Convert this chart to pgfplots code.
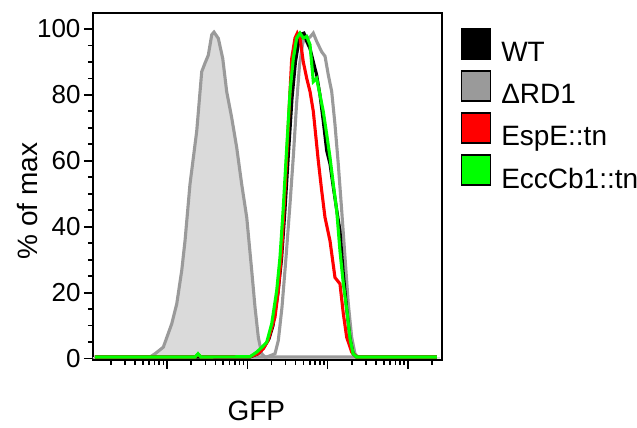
\documentclass[border=0pt]{standalone}
\usepackage{fontspec}
\setmainfont{Liberation Sans}
\usepackage{pgfplots}
\pgfplotsset{compat=1.18}
\definecolor{grayline}{HTML}{9A9A9A}
\definecolor{grayfill}{HTML}{DADADA}
\definecolor{legendgray}{HTML}{9A9A9A}
\definecolor{myred}{HTML}{FF0000}
\definecolor{mygreen}{HTML}{00FF00}
\begin{document}
\begin{tikzpicture}
\useasboundingbox (-93pt,-68pt) rectangle (544pt,360pt);
\begin{axis}[
  scale only axis, width=349pt, height=347pt,
  xmin=0.078, xmax=4.425, ymin=-0.4, ymax=104.8,
  axis line style={line width=1.6pt},
  tick style={line width=1.6pt, black},
  tick align=outside,
  xtick pos=bottom, ytick pos=left,
  xtick={1,2,3,4}, xticklabels={},
  minor xtick={0.301,0.477,0.602,0.699,0.778,0.845,0.903,0.954,
    1.301,1.477,1.602,1.699,1.778,1.845,1.903,1.954,
    2.301,2.477,2.602,2.699,2.778,2.845,2.903,2.954,
    3.301,3.477,3.602,3.699,3.778,3.845,3.903,3.954,4.301},
  ytick={0,20,40,60,80,100},
  minor ytick={5,10,15,25,30,35,45,50,55,65,70,75,85,90,95},
  major tick length=9pt, minor tick length=5pt,
  /pgf/number format/assume math mode=true,
  yticklabel style={font=\fontsize{26}{26}\selectfont},
  xlabel={GFP}, ylabel={\% of max},
  label style={font=\fontsize{28}{30}\selectfont},
  xlabel style={at={(axis description cs:0.468,-0.173)}, anchor=base},
  ylabel style={at={(axis description cs:-0.160,0.458)}, anchor=base},
  legend style={at={(axis description cs:1.054,0.956)}, anchor=north west,
    draw=none, fill=none, font=\fontsize{28}{30}\selectfont,
    row sep=5pt, column sep=8pt, inner sep=0pt},
  legend cell align=left,
]
% unstained control (filled)
\addplot[draw=none, fill=grayfill, forget plot] coordinates {
(0.078,0.5)(0.788,0.5)(0.851,1.5)(0.954,3.5)(1.059,10.6)(1.121,16.6)(1.183,26.7)(1.224,35.7)(1.286,52.9)(1.370,69)(1.432,87)(1.473,89.6)(1.514,92)(1.557,98.2)(1.585,99)(1.639,97.1)(1.694,91)(1.743,81)(1.806,73)(1.868,64)(1.930,52.9)(1.993,42.8)(2.055,26.7)(2.096,15.6)(2.137,6.5)(2.179,1.5)(2.220,0.5)(4.40,0.5)
} \closedcycle;
\addplot[grayline, line width=3.1pt, forget plot] coordinates {
(0.10,0.5)(0.788,0.5)(0.851,1.5)(0.954,3.5)(1.059,10.6)(1.121,16.6)(1.183,26.7)(1.224,35.7)(1.286,52.9)(1.370,69)(1.432,87)(1.473,89.6)(1.514,92)(1.557,98.2)(1.585,99)(1.639,97.1)(1.694,91)(1.743,81)(1.806,73)(1.868,64)(1.930,52.9)(1.993,42.8)(2.055,26.7)(2.096,15.6)(2.137,6.5)(2.179,1.5)(2.220,0.5)(4.36,0.5)
};
% Delta RD1
\addplot[grayline, line width=3.1pt, forget plot] coordinates {
(0.10,0.5)(2.242,0.5)(2.345,1.5)(2.386,5.5)(2.432,15.6)(2.482,30.7)(2.532,47)(2.575,62)(2.613,77)(2.650,89)(2.687,95.2)(2.719,98.2)(2.760,97.2)(2.781,97.5)(2.822,98.7)(2.864,96.2)(2.927,93)(2.968,91.7)(3.009,86)(3.051,81)(3.092,71)(3.133,59)(3.176,44.8)(3.217,30.7)(3.258,16.6)(3.300,6.5)(3.341,1.5)(3.382,0.5)(4.36,0.5)
};
% WT
\addplot[black, line width=3.1pt, forget plot] coordinates {
(0.10,0.5)(2.034,0.5)(2.133,1.5)(2.208,3.5)(2.270,6)(2.320,10)(2.382,20)(2.426,30)(2.469,45)(2.512,62)(2.557,79)(2.600,90)(2.640,96)(2.680,98.5)(2.705,98.7)(2.743,96)(2.781,94)(2.822,90)(2.864,86)(2.905,80)(2.946,72)(2.989,63)(3.030,59)(3.071,52)(3.114,45)(3.154,38.8)(3.196,25.7)(3.238,15)(3.280,6)(3.318,1.5)(3.362,0.5)(4.36,0.5)
};
% EspE::tn
\addplot[myred, line width=3.1pt, forget plot] coordinates {
(0.10,0.5)(1.349,0.5)(1.386,1.3)(1.423,0.5)(2.034,0.6)(2.133,1.5)(2.199,3)(2.258,5.5)(2.301,9)(2.345,12.6)(2.386,20.6)(2.428,32.7)(2.469,50.8)(2.511,71)(2.553,91)(2.594,97.2)(2.623,98.7)(2.656,97.2)(2.697,90)(2.740,85)(2.781,81)(2.822,75)(2.884,60)(2.927,50.8)(2.968,42.8)(3.030,35.7)(3.092,24.6)(3.154,22.7)(3.196,13.6)(3.238,6.5)(3.300,2)(3.362,0.5)(4.36,0.5)
};
% EccCb1::tn
\addplot[mygreen, line width=3.1pt, forget plot] coordinates {
(0.10,0.5)(1.349,0.5)(1.386,1.5)(1.423,0.5)(2.034,0.6)(2.117,2)(2.183,3.5)(2.242,5)(2.304,10.6)(2.366,20.6)(2.407,30.7)(2.448,45.8)(2.491,64)(2.532,81)(2.573,91)(2.615,97.2)(2.656,98.7)(2.697,97.2)(2.740,97.7)(2.781,95.2)(2.822,84)(2.864,85)(2.905,80)(2.946,75)(2.989,68)(3.030,61)(3.071,52.9)(3.114,44.8)(3.154,32.7)(3.196,22.7)(3.238,15)(3.280,6)(3.318,1.5)(3.362,0.5)(4.36,0.5)
};
\addlegendimage{legend image code/.code={\draw[line width=1.2pt, draw=black, fill=black] (0pt,-6pt) rectangle (29pt,24pt);}}
\addlegendentry{WT}
\addlegendimage{legend image code/.code={\draw[line width=1.2pt, draw=black, fill=legendgray] (0pt,-6pt) rectangle (29pt,24pt);}}
\addlegendentry{ΔRD1}
\addlegendimage{legend image code/.code={\draw[line width=1.2pt, draw=black, fill=myred] (0pt,-6pt) rectangle (29pt,24pt);}}
\addlegendentry{EspE::tn}
\addlegendimage{legend image code/.code={\draw[line width=1.2pt, draw=black, fill=mygreen] (0pt,-6pt) rectangle (29pt,24pt);}}
\addlegendentry{EccCb1::tn}
\end{axis}
\end{tikzpicture}
\end{document}
